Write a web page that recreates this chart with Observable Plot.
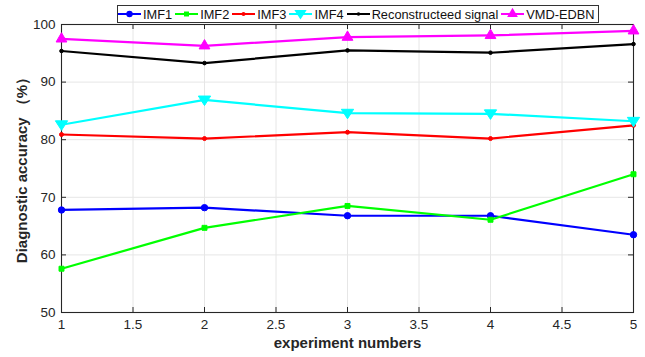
<!DOCTYPE html>
<html>
<head>
<meta charset="utf-8">
<script src="https://cdn.jsdelivr.net/npm/d3@7"></script>
<script src="https://cdn.jsdelivr.net/npm/@observablehq/plot@0.6"></script>
<style>
  html, body { margin: 0; padding: 0; background: #fff; }
  #wrap { position: relative; width: 645px; height: 357px; font-family: "Liberation Sans", Arial, sans-serif; }
  #legend {
    position: absolute; left: 117px; top: 5px; height: 18px; box-sizing: border-box;
    border: 1px solid #333; background: #fff;
    display: flex; align-items: center; padding: 0 3px 0 0;
    font-size: 12.8px; color: #111; white-space: nowrap;
  }
  #legend .item { display: flex; align-items: center; margin-right: 3px; }
  #legend .item:last-child { margin-right: 0; }
  #legend svg { display: block; margin-right: 2px; }
</style>
</head>
<body>
<div id="wrap">
  <div id="chart"></div>
  <div id="legend"></div>
</div>
<script>
// Experiment numbers along the x axis
const experiments = [1, 2, 3, 4, 5];

// Diagnostic accuracy (%) for each input
const imf1   = [67.8, 68.2, 66.8, 66.8, 63.5];
const imf2   = [57.6, 64.7, 68.5, 66.1, 74.0];
const imf3   = [80.9, 80.2, 81.3, 80.2, 82.5];
const imf4   = [82.6, 86.9, 84.6, 84.5, 83.2];
const recon  = [95.4, 93.3, 95.5, 95.1, 96.6];
const vmd    = [97.5, 96.3, 97.8, 98.1, 98.9];

const seriesNames = ["IMF1", "IMF2", "IMF3", "IMF4", "Reconstructeed signal", "VMD-EDBN"];
const seriesValues = [imf1, imf2, imf3, imf4, recon, vmd];
const seriesColors = ["#0000ff", "#00ff00", "#ff0000", "#00ffff", "#000000", "#ff00ff"];
const seriesSymbols = ["circle", "square", "circle", "triangle-down", "circle", "triangle"];
const seriesSizes = [3.2, 2.8, 2, 3.6, 1.8, 4];

const xTicks = [1, 1.5, 2, 2.5, 3, 3.5, 4, 4.5, 5];
const yTicks = [50, 60, 70, 80, 90, 100];

const rows = seriesNames.flatMap((name, i) =>
  experiments.map((x, j) => ({series: name, x, y: seriesValues[i][j]}))
);

// custom downward triangle symbol
const triDown = {
  draw(ctx, size) {
    const r = Math.sqrt(size / 1.3);
    ctx.moveTo(0, r);
    ctx.lineTo(r * 1.1, -r * 0.7);
    ctx.lineTo(-r * 1.1, -r * 0.7);
    ctx.closePath();
  }
};
const symbolOf = s => s === "triangle-down" ? triDown : s;

const W = 645, H = 357;
const m = {left: 61, right: 12, top: 24, bottom: 45};
const innerH = H - m.top - m.bottom;
const innerW = W - m.left - m.right;

const marks = [
  Plot.gridX(xTicks, {stroke: "#e6e6e6", strokeOpacity: 1, strokeWidth: 1}),
  Plot.gridY(yTicks, {stroke: "#e6e6e6", strokeOpacity: 1, strokeWidth: 1}),
  // inward ticks on all four sides
  Plot.ruleX(xTicks, {x: d => d, insetTop: innerH - 5, stroke: "#262626"}),
  Plot.ruleX(xTicks, {x: d => d, insetBottom: innerH - 5, stroke: "#262626"}),
  Plot.ruleY(yTicks, {y: d => d, insetRight: innerW - 5, stroke: "#262626"}),
  Plot.ruleY(yTicks, {y: d => d, insetLeft: innerW - 5, stroke: "#262626"}),
  Plot.frame({stroke: "#262626", strokeWidth: 1.1}),
  Plot.axisX(xTicks, {tickSize: 0, tickPadding: 7, fontSize: 13.5, fill: "#262626",
    tickFormat: d => String(d), label: null}),
  Plot.axisY(yTicks, {tickSize: 0, tickPadding: 6, fontSize: 13.5, fill: "#262626", label: null}),
];

seriesNames.forEach((name, i) => {
  const data = rows.filter(r => r.series === name);
  marks.push(Plot.line(data, {x: "x", y: "y", stroke: seriesColors[i], strokeWidth: 2.2}));
  marks.push(Plot.dot(data, {x: "x", y: "y", fill: seriesColors[i], stroke: seriesColors[i],
    symbol: symbolOf(seriesSymbols[i]), r: seriesSizes[i], strokeWidth: 1}));
});

// axis titles
marks.push(Plot.text(["experiment numbers"], {
  frameAnchor: "bottom", dy: 35, fontSize: 15, fontWeight: "bold", fill: "#262626", text: d => d
}));
marks.push(Plot.text(["Diagnostic accuracy （%）"], {
  frameAnchor: "left", textAnchor: "middle", dx: -39, dy: -2, rotate: -90,
  fontSize: 15, fontWeight: "bold", fill: "#262626", text: d => d
}));

const chart = Plot.plot({
  width: W, height: H,
  marginLeft: m.left, marginRight: m.right, marginTop: m.top, marginBottom: m.bottom,
  style: {fontFamily: "'Liberation Sans', Arial, sans-serif", background: "#fff", overflow: "visible"},
  x: {domain: [1, 5]},
  y: {domain: [50, 100]},
  marks
});
document.getElementById("chart").appendChild(chart);

// legend with line + marker swatches
const legend = d3.select("#legend");
seriesNames.forEach((name, i) => {
  const item = legend.append("div").attr("class", "item");
  const sw = item.append("svg").attr("width", 23).attr("height", 12);
  sw.append("line").attr("x1", 0).attr("x2", 23).attr("y1", 6).attr("y2", 6)
    .attr("stroke", seriesColors[i]).attr("stroke-width", 2);
  const sym = seriesSymbols[i] === "triangle-down" ? triDown
    : seriesSymbols[i] === "square" ? d3.symbolSquare
    : seriesSymbols[i] === "triangle" ? d3.symbolTriangle : d3.symbolCircle;
  const r = seriesSizes[i];
  sw.append("path").attr("transform", "translate(11.5,6)")
    .attr("d", d3.symbol(sym, Math.PI * r * r)())
    .attr("fill", seriesColors[i]);
  item.append("span").text(name);
});
</script>
</body>
</html>
